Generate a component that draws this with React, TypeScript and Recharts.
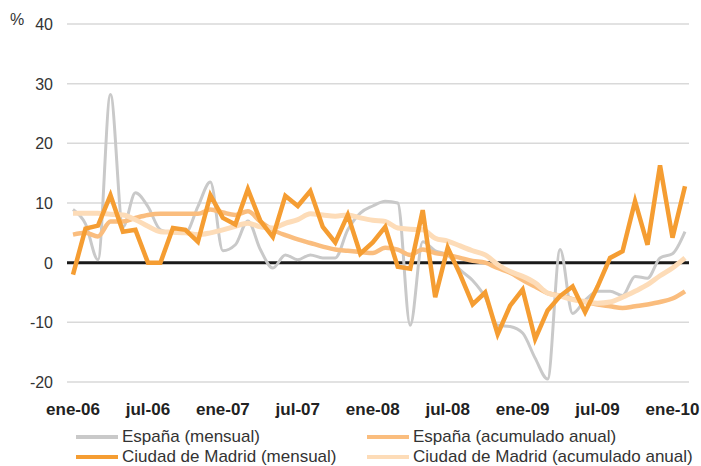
import React from 'react';
import { LineChart, Line, XAxis, YAxis, CartesianGrid, ReferenceLine } from 'recharts';

const meses = ['ene', 'feb', 'mar', 'abr', 'may', 'jun', 'jul', 'ago', 'sep', 'oct', 'nov', 'dic'];
const anios = ['06', '07', '08', '09', '10'];
// ene-06 .. feb-10
const periodos = anios.flatMap((a) => meses.map((m) => `${m}-${a}`)).slice(0, 50);

const espanaMensual = [
    8.9, 6.5, 0.5, 28.2, 6, 11.7, 9.4, 5.5, 5, 5,
    9.4, 13.5, 2, 3, 7, 2.2, -0.9, 1.3, 0.5, 1.3,
    0.8, 0.8, 5.5, 8.3, 9.5, 10.3, 10, -10.5, 3.5, 2,
    1.3, -1.2, -3, -5.8, -10.5, -10.7, -11.8, -16, -19.5, 2.2,
    -8.5, -6.3, -4.8, -4.8, -5.5, -2.3, -2.6, 0.8, 1.5, 5.2,
];

const madridMensual = [
    -2, 5.7, 6.2, 11.3, 5.2, 5.5, 0, 0, 5.8, 5.5,
    3.5, 11.3, 7.5, 6.4, 12.3, 7, 4.3, 11.2, 9.5, 12,
    6, 3.4, 8, 1.5, 3.4, 6, -0.7, -1, 8.8, -5.8,
    2.5, -2, -7, -5, -12, -7.2, -4.5, -12.8, -8, -5.6,
    -4, -8.3, -4, 0.8, 1.9, 10.3, 3, 16.3, 4.2, 12.8,
];

const espanaAcumulado = [
    4.7, 5, 4.4, 6.9, 6.9, 7.5, 8, 8.2, 8.2, 8.2,
    8.2, 8.9, 8.4, 8, 8.6, 6.9, 5.5, 4.6, 3.9, 3.3,
    2.7, 2.2, 2, 1.8, 1.6, 2.5, 2.2, 1.3, 2.2, 1.6,
    1.3, 0.8, 0.3, 0, -0.9, -1.7, -2.9, -4, -5.1, -5.5,
    -6.1, -6.6, -7, -7.3, -7.6, -7.3, -7, -6.6, -6, -4.8,
];

const madridAcumulado = [
    8.3, 8.3, 8.3, 8.1, 8, 7.2, 6.1, 5.2, 5.1, 5,
    4.7, 5, 5.5, 6.1, 6.6, 6, 5.8, 6.6, 7.2, 8.2,
    8, 7.8, 8, 7.5, 7.1, 6.9, 5.8, 5.6, 5.5, 4.1,
    3.6, 2.8, 2, 1.3, -0.3, -1.5, -2.3, -3.4, -5.1, -5.6,
    -6.2, -6.5, -6.8, -6.6, -5.8, -4.8, -3.7, -2.2, -0.9, 0.8,
];

const yTicks = [-20, -10, 0, 10, 20, 30, 40];

const colores = {
    espanaMensual: '#c9c9c9',
    madridMensual: '#f59d32',
    espanaAcumulado: '#fabd7e',
    madridAcumulado: '#fddcb8',
};

const leyenda = [
    { key: 'espanaMensual', label: 'España (mensual)', left: 76, top: 437 },
    { key: 'espanaAcumulado', label: 'España (acumulado anual)', left: 367, top: 437 },
    { key: 'madridMensual', label: 'Ciudad de Madrid (mensual)', left: 76, top: 457 },
    { key: 'madridAcumulado', label: 'Ciudad de Madrid (acumulado anual)', left: 367, top: 457 },
];

const data = periodos.map((periodo, i) => ({
    periodo,
    espanaMensual: espanaMensual[i],
    madridMensual: madridMensual[i],
    espanaAcumulado: espanaAcumulado[i],
    madridAcumulado: madridAcumulado[i],
}));

const font = '"Liberation Sans", Arial, Helvetica, sans-serif';

const YTick = ({ y, payload }: any) => (
    <text x={53} y={y} dy={6} textAnchor="end" fontSize={16} fontFamily={font} fill="#333">
        {payload.value}
    </text>
);

const XTick = ({ x, y, payload }: any) => (
    <text x={x} y={y} dy={25} textAnchor="middle" fontSize={17} fontWeight="bold" fontFamily={font} fill="#222">
        {payload.value}
    </text>
);

export default function App() {
    return (
        <div style={{ position: 'absolute', left: 0, top: 0, width: 701, height: 466, background: '#fff', fontFamily: font }}>
            <LineChart width={701} height={466} data={data} margin={{ top: 24, right: 12, left: 7, bottom: 44 }}>
                <CartesianGrid vertical={false} stroke="#d9d9d9" strokeWidth={1.5} />
                <XAxis
                    dataKey="periodo"
                    interval={5}
                    axisLine={false}
                    tickLine={false}
                    height={40}
                    padding={{ left: 6, right: 4 }}
                    tick={<XTick />}
                />
                <YAxis
                    domain={[-20, 40]}
                    ticks={yTicks}
                    axisLine={false}
                    tickLine={false}
                    width={60}
                    tick={<YTick />}
                />
                <ReferenceLine y={0} stroke="#1a1a1a" strokeWidth={3} />
                <Line type="monotone" dataKey="espanaMensual" stroke={colores.espanaMensual} strokeWidth={3} dot={false} isAnimationActive={false} />
                <Line type="monotone" dataKey="espanaAcumulado" stroke={colores.espanaAcumulado} strokeWidth={4.5} dot={false} isAnimationActive={false} />
                <Line type="monotone" dataKey="madridAcumulado" stroke={colores.madridAcumulado} strokeWidth={5} dot={false} isAnimationActive={false} />
                <Line type="linear" dataKey="madridMensual" stroke={colores.madridMensual} strokeWidth={4.5} strokeLinejoin="miter" dot={false} isAnimationActive={false} />
            </LineChart>
            <div style={{ position: 'absolute', left: 10, top: 11, fontSize: 16, color: '#333' }}>%</div>
            {leyenda.map((l) => (
                <div key={l.key} style={{ position: 'absolute', left: l.left, top: l.top - 10, height: 20, display: 'flex', alignItems: 'center', whiteSpace: 'nowrap' }}>
                    <span style={{ display: 'inline-block', width: 42, height: 4, background: (colores as any)[l.key], marginRight: 4 }} />
                    <span style={{ fontSize: 17, color: '#333' }}>{l.label}</span>
                </div>
            ))}
        </div>
    );
}
